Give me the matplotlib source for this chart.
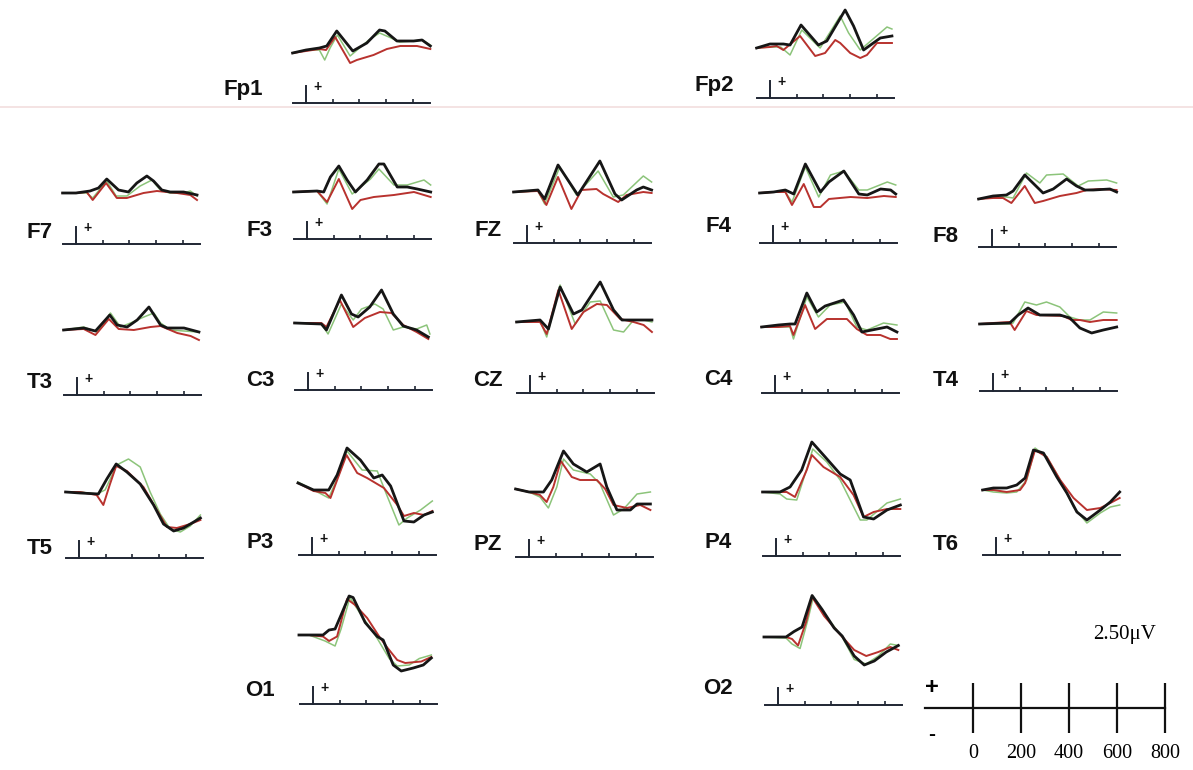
import matplotlib
matplotlib.use('Agg')
import matplotlib.pyplot as plt
from matplotlib.lines import Line2D

W, H = 1193, 770

# ERP traces, (ms, uV) pairs, positive up
FP1 = {
    'black': [(-100, 0), (0, 0.3), (100, 0.5), (155, 0.7), (230, 2.2), (350, 0.2), (455, 1.0), (550, 2.3), (590, 2.2), (680, 1.2), (805, 1.2), (868, 1.3), (930, 0.7)],
    'red': [(-100, 0), (0, 0.2), (100, 0.4), (150, 0.3), (218, 1.6), (330, -1.0), (380, -0.7), (505, -0.2), (605, 0.4), (705, 0.7), (830, 0.7), (930, 0.4)],
    'green': [(-100, 0), (0, 0.3), (100, 0.3), (140, -0.7), (180, 0.5), (235, 1.8), (330, -0.3), (400, 0.5), (470, 1.3), (550, 2.0), (620, 1.6), (700, 1.1), (800, 1.2), (870, 1.3), (930, 0.8)],
}
FP2 = {
    'black': [(-100, 0), (0, 0.4), (100, 0.4), (150, 0.3), (232, 2.3), (362, 0.3), (425, 0.7), (562, 3.8), (625, 2.2), (700, -0.2), (825, 1.0), (912, 1.2)],
    'red': [(-100, 0), (0, 0.1), (50, 0.2), (100, -0.2), (225, 1.2), (338, -0.8), (412, -0.5), (488, 0.8), (525, 0.5), (600, -0.5), (675, -1.0), (725, -0.7), (800, 0.5), (912, 0.5)],
    'green': [(-100, 0), (0, 0.1), (80, 0.1), (150, -0.7), (238, 1.8), (375, 0), (525, 3.2), (588, 1.5), (675, -0.2), (875, 2.1), (912, 1.9)],
}
F7 = {
    'black': [(-100, 0), (0, 0), (105, 0.2), (168, 0.5), (230, 1.4), (318, 0.3), (392, 0.1), (455, 1.0), (530, 1.7), (580, 1.2), (642, 0.3), (705, 0.1), (805, 0.1), (905, -0.2)],
    'red': [(-100, 0), (0, 0), (80, 0.1), (125, -0.7), (225, 1.0), (305, -0.5), (380, -0.5), (505, 0), (605, 0.2), (755, 0), (855, -0.2), (905, -0.7)],
    'green': [(-100, 0), (0, 0), (80, 0), (125, -0.5), (230, 1.2), (300, -0.3), (380, -0.3), (480, 0.7), (568, 1.3), (630, 0.3), (700, 0), (805, 0), (855, 0.2), (905, -0.3)],
}
F3 = {
    'black': [(-100, 0), (75, 0.1), (125, 0), (175, 1.5), (238, 2.6), (300, 1.2), (362, 0), (450, 1.2), (538, 2.8), (575, 2.8), (675, 0.5), (750, 0.5), (825, 0.3), (925, 0)],
    'red': [(-100, 0), (75, 0.1), (150, -1.0), (238, 1.3), (338, -1.7), (400, -0.8), (500, -0.5), (650, -0.3), (800, 0), (925, -0.5)],
    'green': [(-100, 0), (75, 0.1), (150, -1.2), (238, 2.3), (338, -0.2), (475, 1.3), (538, 2.3), (650, 0.7), (750, 0.7), (875, 1.2), (925, 0.7)],
}
FZ = {
    'black': [(-100, 0), (82, 0.2), (132, -0.7), (232, 2.7), (380, -0.3), (545, 3.1), (658, -0.2), (708, -0.8), (820, 0.2), (870, 0.5), (932, 0.2)],
    'red': [(-100, 0), (82, 0.1), (145, -1.3), (232, 1.5), (332, -1.7), (408, 0.2), (520, 0.3), (570, -0.2), (682, -1.0), (745, -0.3), (870, 0), (932, -0.1)],
    'green': [(-100, 0), (82, 0.1), (132, -1.2), (245, 2.5), (370, -0.3), (532, 2.1), (645, -0.5), (720, -0.3), (870, 1.6), (932, 1.0)],
}
F4 = {
    'black': [(-100, 0), (5, 0.1), (92, 0.3), (155, -0.1), (242, 2.9), (355, 0.1), (418, 1.1), (530, 2.2), (642, -0.1), (705, -0.2), (805, 0.4), (880, 0.3), (918, -0.1)],
    'red': [(-100, 0), (5, 0.1), (92, 0.1), (142, -1.2), (230, 0.9), (305, -1.4), (355, -1.4), (418, -0.6), (580, -0.4), (705, -0.5), (830, -0.3), (918, -0.4)],
    'green': [(-100, 0), (5, 0.1), (92, 0.1), (142, -0.9), (242, 2.6), (342, -0.4), (430, 1.8), (530, 2.2), (642, 0.3), (705, 0.3), (855, 1.1), (918, 0.8)],
}
F8 = {
    'black': [(-100, 0), (8, 0.3), (108, 0.4), (158, 0.8), (245, 2.4), (382, 0.6), (458, 1.0), (558, 2.0), (632, 1.3), (695, 0.9), (758, 0.9), (882, 1.0), (932, 0.7)],
    'red': [(-100, 0), (8, 0.1), (82, 0.1), (145, -0.4), (245, 1.3), (320, -0.4), (382, -0.2), (508, 0.3), (632, 0.6), (708, 0.9), (808, 1.0), (932, 0.9)],
    'green': [(-100, 0), (8, 0.2), (108, 0.2), (158, 0.1), (258, 2.6), (358, 1.6), (408, 2.4), (532, 2.5), (645, 1.3), (720, 1.8), (858, 1.9), (932, 1.6)],
}
T3 = {
    'black': [(-100, 0), (50, 0.2), (138, -0.1), (245, 1.5), (300, 0.5), (375, 0.3), (450, 1.0), (538, 2.3), (625, 0.5), (675, 0.2), (800, 0.2), (912, -0.2)],
    'red': [(-100, 0), (50, 0.1), (138, -0.5), (238, 1.1), (312, 0.1), (425, 0), (550, 0.3), (625, 0.4), (750, -0.3), (850, -0.6), (912, -1.0)],
    'green': [(-100, 0), (50, 0.3), (150, -0.2), (250, 1.7), (325, 0.3), (400, 0.7), (500, 1.3), (575, 1.7), (625, 0.7), (700, 0), (800, -0.1), (912, -0.2)],
}
C3 = {
    'black': [(-100, 0), (100, -0.1), (138, -0.7), (250, 2.8), (325, 0.9), (375, 0.6), (462, 1.6), (550, 3.3), (638, 0.9), (712, -0.3), (812, -0.7), (900, -1.4)],
    'red': [(-100, 0), (100, 0), (138, -0.4), (238, 2.3), (338, -0.4), (425, 0.5), (538, 1.1), (625, 1.0), (712, -0.2), (812, -0.9), (900, -1.6)],
    'green': [(-100, 0), (100, -0.1), (150, -1.1), (250, 1.9), (338, 0.3), (400, 1.4), (500, 1.9), (562, 1.4), (638, -0.7), (712, -0.4), (812, -0.6), (888, -0.2), (912, -1.1)],
}
CZ = {
    'black': [(-100, 0), (75, 0.2), (138, -0.7), (225, 3.5), (325, 0.8), (388, 1.2), (525, 4.0), (625, 1.2), (688, 0.2), (775, 0.2), (850, 0.2), (912, 0.2)],
    'red': [(-100, 0), (75, 0), (125, -1.2), (212, 3.2), (312, -0.7), (400, 1.0), (500, 1.8), (575, 1.7), (675, 0.3), (775, 0), (850, -0.3), (912, -1.0)],
    'green': [(-100, 0), (75, 0.1), (125, -1.5), (225, 3.7), (338, -0.2), (450, 2.0), (525, 2.1), (625, -0.8), (700, -1.0), (775, 0.2), (850, 0.2), (912, 0)],
}
C4 = {
    'black': [(-100, 0), (25, 0.2), (112, 0.3), (150, 0.3), (238, 3.4), (312, 1.5), (375, 2.1), (512, 2.7), (588, 1.2), (650, -0.5), (762, -0.2), (838, 0), (912, -0.5)],
    'red': [(-100, 0), (25, 0), (112, 0.1), (138, -0.8), (225, 2.2), (300, -0.2), (388, 0.8), (538, 0.8), (612, -0.2), (688, -0.8), (788, -0.8), (862, -1.2), (912, -1.2)],
    'green': [(-100, 0), (25, 0), (112, 0), (138, -1.2), (238, 3.0), (325, 1.0), (412, 2.2), (525, 2.5), (612, 0), (688, -0.3), (812, 0.4), (912, 0.2)],
}
T4 = {
    'black': [(-100, 0), (125, 0.1), (188, 0.9), (262, 1.6), (350, 0.9), (500, 0.9), (575, 0.6), (650, -0.4), (738, -0.9), (825, -0.6), (925, -0.3)],
    'red': [(-100, 0), (0, 0.1), (125, 0.2), (162, -0.6), (250, 1.3), (325, 0.9), (525, 0.8), (588, 0.4), (650, 0.4), (725, 0.2), (825, 0.4), (925, 0.4)],
    'green': [(-100, 0), (125, 0), (150, 0.1), (238, 2.2), (325, 1.9), (400, 2.2), (500, 1.7), (575, 0.7), (650, 0.4), (725, 0.4), (825, 1.2), (925, 1.1)],
}
T5 = {
    'black': [(-100, 0), (8, -0.1), (145, -0.2), (208, 1.3), (278, 2.8), (358, 2.0), (458, 0.8), (558, -1.3), (632, -3.2), (708, -3.9), (782, -3.6), (858, -3.0), (908, -2.6)],
    'red': [(-100, 0), (8, 0), (132, -0.3), (182, -1.3), (232, 0.8), (278, 2.6), (358, 2.1), (482, 0.5), (582, -1.8), (658, -3.5), (732, -3.6), (832, -3.2), (908, -2.8)],
    'green': [(-100, 0), (8, 0), (132, -0.2), (195, 0.2), (282, 2.7), (370, 3.3), (458, 2.5), (532, 0), (608, -2.2), (682, -3.7), (758, -4.0), (832, -3.4), (908, -2.3)],
}
P3 = {
    'black': [(-105, 0.6), (12, -0.1), (125, -0.1), (188, 1.4), (262, 4.1), (362, 2.9), (462, 1.1), (525, 1.4), (588, 0.3), (688, -3.2), (762, -3.3), (838, -2.6), (900, -2.3)],
    'red': [(-105, 0.6), (12, -0.2), (100, -0.4), (138, -0.9), (188, 0.9), (258, 3.4), (338, 1.6), (412, 1.1), (538, 0.1), (638, -1.6), (688, -2.7), (762, -2.4), (838, -2.6), (900, -2.2)],
    'green': [(-105, 0.7), (12, -0.1), (125, -0.9), (200, 1.4), (262, 3.8), (375, 1.9), (488, 1.8), (562, -0.7), (650, -3.6), (712, -2.9), (812, -2.1), (900, -1.2)],
}
PZ = {
    'black': [(-100, 0.3), (0, 0), (108, 0), (170, 1.2), (258, 4.1), (332, 2.8), (432, 2.0), (532, 2.8), (582, 0.5), (658, -1.8), (758, -1.8), (808, -1.2), (908, -1.2)],
    'red': [(-100, 0.3), (0, 0), (82, -0.3), (132, -1.0), (182, 0.5), (238, 3.1), (320, 1.5), (382, 1.2), (508, 1.2), (570, 0.3), (632, -1.3), (732, -1.6), (832, -1.3), (908, -1.8)],
    'green': [(-100, 0.3), (0, 0), (82, -0.5), (145, -1.6), (208, 0.5), (258, 3.3), (332, 2.2), (458, 1.8), (532, 0.8), (632, -2.3), (708, -1.7), (808, -0.2), (908, 0)],
}
P4 = {
    'black': [(-100, 0), (30, 0), (105, 0.5), (192, 2.2), (268, 5.0), (368, 3.5), (480, 1.8), (555, 1.2), (655, -2.5), (730, -2.7), (830, -1.8), (930, -1.3)],
    'red': [(-100, 0), (30, 0), (80, 0), (142, -0.5), (230, 2.2), (268, 3.7), (355, 2.5), (480, 1.5), (580, -0.3), (655, -2.5), (730, -2.0), (830, -1.7), (930, -1.7)],
    'green': [(-100, 0), (30, -0.2), (80, -0.7), (155, -0.8), (242, 2.8), (275, 4.3), (380, 3.0), (480, 1.2), (630, -2.8), (680, -2.8), (830, -1.1), (930, -0.7)],
}
T6 = {
    'black': [(-100, 0), (-20, 0.2), (80, 0.2), (155, 0.5), (218, 1.2), (280, 4.0), (355, 3.7), (455, 1.3), (530, -0.3), (605, -2.2), (680, -3.0), (780, -2.0), (855, -1.2), (925, -0.2)],
    'red': [(-100, 0), (-20, 0), (80, -0.2), (180, 0), (218, 0.7), (292, 4.0), (380, 3.3), (480, 1.0), (580, -0.8), (680, -2.0), (780, -1.8), (855, -1.3), (925, -0.8)],
    'green': [(-100, 0), (-20, -0.2), (80, -0.3), (155, -0.2), (230, 1.0), (292, 4.2), (380, 3.3), (480, 1.0), (580, -1.7), (680, -3.3), (780, -2.3), (855, -1.7), (925, -1.5)],
}
O1 = {
    'black': [(-105, 0), (-30, 0), (75, 0), (120, 0.5), (165, 0.6), (210, 2.0), (270, 3.9), (300, 3.75), (390, 1.25), (480, -0.15), (525, -0.5), (600, -3.0), (660, -3.6), (750, -3.3), (825, -3.0), (885, -2.3)],
    'red': [(-105, 0), (-30, 0), (75, -0.15), (120, -0.6), (180, -0.15), (255, 3.6), (315, 3.0), (405, 1.7), (495, -0.15), (555, -1.25), (630, -2.5), (690, -2.8), (810, -2.65), (885, -2.2)],
    'green': [(-105, 0), (-30, 0), (90, -0.6), (165, -1.1), (210, 0.6), (276, 3.75), (360, 2.0), (465, 0), (570, -2.35), (630, -3.1), (720, -3.0), (795, -2.35), (885, -2.0)],
}
O2 = {
    'black': [(-105, 0), (60, 0), (120, 0.55), (180, 1.0), (255, 4.15), (330, 2.75), (420, 0.9), (480, 0.1), (570, -1.9), (645, -2.8), (720, -2.4), (810, -1.5), (900, -0.85)],
    'red': [(-105, 0), (60, 0), (105, -0.2), (150, -0.85), (210, 1.5), (255, 4.0), (345, 2.1), (465, 0.25), (570, -1.3), (660, -1.9), (750, -1.5), (840, -1.0), (900, -1.3)],
    'green': [(-105, 0), (60, -0.1), (105, -0.7), (165, -1.15), (225, 1.8), (264, 4.0), (360, 2.1), (480, 0), (570, -2.25), (660, -2.7), (750, -1.9), (840, -0.7), (900, -0.85)],
}

SCALE_TICKS = [0, 200, 400, 600, 800]
SCALE_UV = 2.5

# layout in pixels: name, data, x of t=0, y of time axis, y of baseline, label x, label y
PANELS = [
    ('Fp1', FP1, 306, 103, 53, 243, 89),
    ('Fp2', FP2, 770, 98, 48, 714, 85),
    ('F7', F7, 76, 244, 193, 40, 233),
    ('F3', F3, 307, 239, 192, 260, 230),
    ('FZ', FZ, 527, 243, 192, 488, 230),
    ('F4', F4, 773, 243, 193, 718, 227),
    ('F8', F8, 992, 247, 199, 946, 236),
    ('T3', T3, 77, 395, 330, 40, 383),
    ('C3', C3, 308, 390, 323, 260, 381),
    ('CZ', CZ, 530, 393, 322, 488, 381),
    ('C4', C4, 775, 393, 327, 718, 380),
    ('T4', T4, 993, 391, 324, 946, 381),
    ('T5', T5, 79, 558, 492, 40, 548),
    ('P3', P3, 312, 555, 489, 260, 543),
    ('PZ', PZ, 529, 557, 492, 488, 545),
    ('P4', P4, 776, 556, 492, 718, 542),
    ('T6', T6, 996, 555, 490, 946, 545),
    ('O1', O1, 313, 704, 635, 260, 690),
    ('O2', O2, 778, 705, 637, 718, 688),
]

PX_PER_MS = 0.1337
PX_PER_UV = 10.0
T_LO, T_HI = -115, 945
AX_COLOR = '#1f2633'
STYLE = {
    'green': dict(color='#8cc47a', lw=1.1, zorder=2),
    'red': dict(color='#b8322e', lw=1.4, zorder=3),
    'black': dict(color='#161616', lw=2.0, zorder=4),
}

plt.rcParams['font.family'] = ['Liberation Sans Narrow', 'Liberation Sans', 'DejaVu Sans']

fig = plt.figure(figsize=(W / 100, H / 100), dpi=100)
fig.patch.set_facecolor('white')


def px_axes(left, top, width, height):
    ax = fig.add_axes([left / W, 1 - (top + height) / H, width / W, height / H])
    ax.axis('off')
    return ax


# faint scan line under the top row
fig.add_artist(Line2D([0, 1], [1 - 107 / H, 1 - 107 / H], transform=fig.transFigure,
                      color='#f2dede', lw=1.2))

for name, data, x0, ya, yb, lx, ly in PANELS:
    left = x0 + T_LO * PX_PER_MS
    width = (T_HI - T_LO) * PX_PER_MS
    top = ya - 106
    ax = px_axes(left, top, width, 113)
    y_axis = -(ya - yb) / PX_PER_UV
    ax.set_xlim(T_LO, T_HI)
    ax.set_ylim(y_axis - 0.7, y_axis + 10.6)

    for key in ['green', 'red', 'black']:
        t, v = zip(*data[key])
        ax.plot(t, v, solid_joinstyle='round', clip_on=False, **STYLE[key])

    # mini time axis with stimulus marker
    ax.plot([-100, 930], [y_axis, y_axis], color=AX_COLOR, lw=1.4)
    ax.plot([0, 0], [y_axis, y_axis + 1.7], color=AX_COLOR, lw=1.4)
    ax.vlines([200, 400, 600, 800], y_axis, y_axis + 0.4, color=AX_COLOR, lw=1.2)
    ax.text(85, y_axis + 1.6, '+', fontsize=10, fontweight='bold', ha='center', va='center',
            color='#111111')

    fig.text(lx / W, 1 - ly / H, name, fontsize=16, fontweight='bold', ha='center', va='center',
             color='#111111')

# calibration bar
sb = px_axes(915, 615, 270, 155)
sb.set_xlim(-242, 883)
sb.set_ylim((708 - 770) / PX_PER_UV, (708 - 615) / PX_PER_UV)
sb.plot([-200, 800], [0, 0], color='#111111', lw=1.6)
sb.vlines(SCALE_TICKS, -SCALE_UV, SCALE_UV, color='#111111', lw=1.6)
sb.text(-171, 2.1, '+', fontsize=17, fontweight='bold', ha='center', va='center')
sb.text(-171, -2.7, '-', fontsize=15, fontweight='bold', ha='center', va='center')
for tk in SCALE_TICKS:
    sb.text(tk, -4.5, str(tk), fontsize=14.5, ha='center', va='center', family='Liberation Serif')
sb.text(633, 7.4, '%.2f\u03bcV' % SCALE_UV, fontsize=15, ha='center', va='center',
        family='Liberation Serif')

fig.savefig('out.png', dpi=100, facecolor='white')
